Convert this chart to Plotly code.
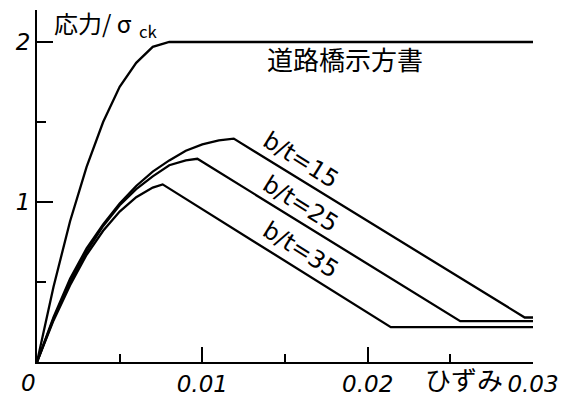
import plotly.graph_objects as go

# Data (strain, stress ratio)
spec_strain = [0, 0.001, 0.002, 0.003, 0.004, 0.005, 0.006, 0.007, 0.008, 0.030]
spec_stress = [0, 0.47, 0.88, 1.22, 1.50, 1.72, 1.87, 1.97, 2.00, 2.00]

bt15_strain = [0, 0.001, 0.002, 0.003, 0.004, 0.005, 0.006, 0.007, 0.008, 0.009, 0.010, 0.011, 0.0119, 0.0295, 0.030]
bt15_stress = [0, 0.28, 0.52, 0.71, 0.86, 0.99, 1.10, 1.19, 1.26, 1.32, 1.36, 1.385, 1.396, 0.278, 0.278]

bt25_strain = [0, 0.001, 0.002, 0.003, 0.004, 0.005, 0.006, 0.007, 0.008, 0.009, 0.0097, 0.0256, 0.030]
bt25_stress = [0, 0.27, 0.50, 0.69, 0.85, 0.98, 1.08, 1.16, 1.23, 1.26, 1.27, 0.255, 0.255]

bt35_strain = [0, 0.001, 0.002, 0.003, 0.004, 0.005, 0.006, 0.007, 0.0076, 0.0214, 0.030]
bt35_stress = [0, 0.26, 0.48, 0.67, 0.82, 0.94, 1.03, 1.09, 1.11, 0.218, 0.218]

x_tickvals = [0.01, 0.02, 0.03]
x_ticktext = ["0.01", "0.02", "0.03"]
x_minor = [0.005, 0.015, 0.025]
y_tickvals = [1, 2]
y_ticktext = ["1", "2"]
y_minor = [0.5, 1.5]
origin_label = "0"

fig = go.Figure()
for xs, ys in [(spec_strain, spec_stress), (bt15_strain, bt15_stress),
               (bt25_strain, bt25_stress), (bt35_strain, bt35_stress)]:
    fig.add_trace(go.Scatter(x=xs, y=ys, mode="lines",
                             line=dict(color="black", width=2.3),
                             showlegend=False, hoverinfo="skip"))

tickfont = dict(family="DejaVu Sans", size=23, color="black", style="italic")
cjk = "Noto Sans CJK JP"

fig.update_layout(
    width=570, height=398,
    margin=dict(l=37, r=37, t=10, b=36),
    paper_bgcolor="white", plot_bgcolor="white",
    showlegend=False,
    xaxis=dict(range=[0, 0.03], showgrid=False, zeroline=False, automargin=False,
               showline=True, linecolor="black", linewidth=2,
               ticks="inside", ticklen=15, tickwidth=2, tickcolor="black",
               tickvals=x_tickvals, ticktext=x_ticktext, tickfont=tickfont,
               minor=dict(tickvals=x_minor, ticks="inside", ticklen=8,
                          tickwidth=2, tickcolor="black", showgrid=False)),
    yaxis=dict(range=[0, 2.2], showgrid=False, zeroline=False, automargin=False,
               showline=True, linecolor="black", linewidth=2,
               ticks="inside", ticklen=16, tickwidth=2, tickcolor="black",
               tickvals=y_tickvals, ticktext=y_ticktext, tickfont=tickfont,
               minor=dict(tickvals=y_minor, ticks="inside", ticklen=9,
                          tickwidth=2, tickcolor="black", showgrid=False)),
)

annotations = [
    dict(x=0.00093, y=2.11, text="応力/ σ<sub>  ck</sub>", xanchor="left", yanchor="middle",
         font=dict(family=cjk, size=24, color="black")),
    dict(x=0.01864, y=1.90, text="道路橋示方書", xanchor="center", yanchor="middle",
         font=dict(family=cjk, size=26, color="black")),
    dict(x=0.01596, y=1.26, text="b/t=15", textangle=32,
         font=dict(family="DejaVu Sans", size=24, color="black")),
    dict(x=0.01596, y=0.99, text="b/t=25", textangle=32,
         font=dict(family="DejaVu Sans", size=24, color="black")),
    dict(x=0.01596, y=0.70, text="b/t=35", textangle=32,
         font=dict(family="DejaVu Sans", size=24, color="black")),
    dict(x=0.0283, y=-0.048, yref="paper", text="ひずみ", xanchor="right", yanchor="middle",
         font=dict(family=cjk, size=26, color="black")),
    dict(x=0, y=-0.06, xref="paper", yref="paper", text=origin_label, xanchor="center",
         yanchor="middle", xshift=-9, font=tickfont),
]
for a in annotations:
    a.setdefault("showarrow", False)
    fig.add_annotation(**a)

fig.write_html("out.html",
               config={"displayModeBar": False},
               post_script="document.body.style.margin='0';document.body.style.overflow='hidden';")
